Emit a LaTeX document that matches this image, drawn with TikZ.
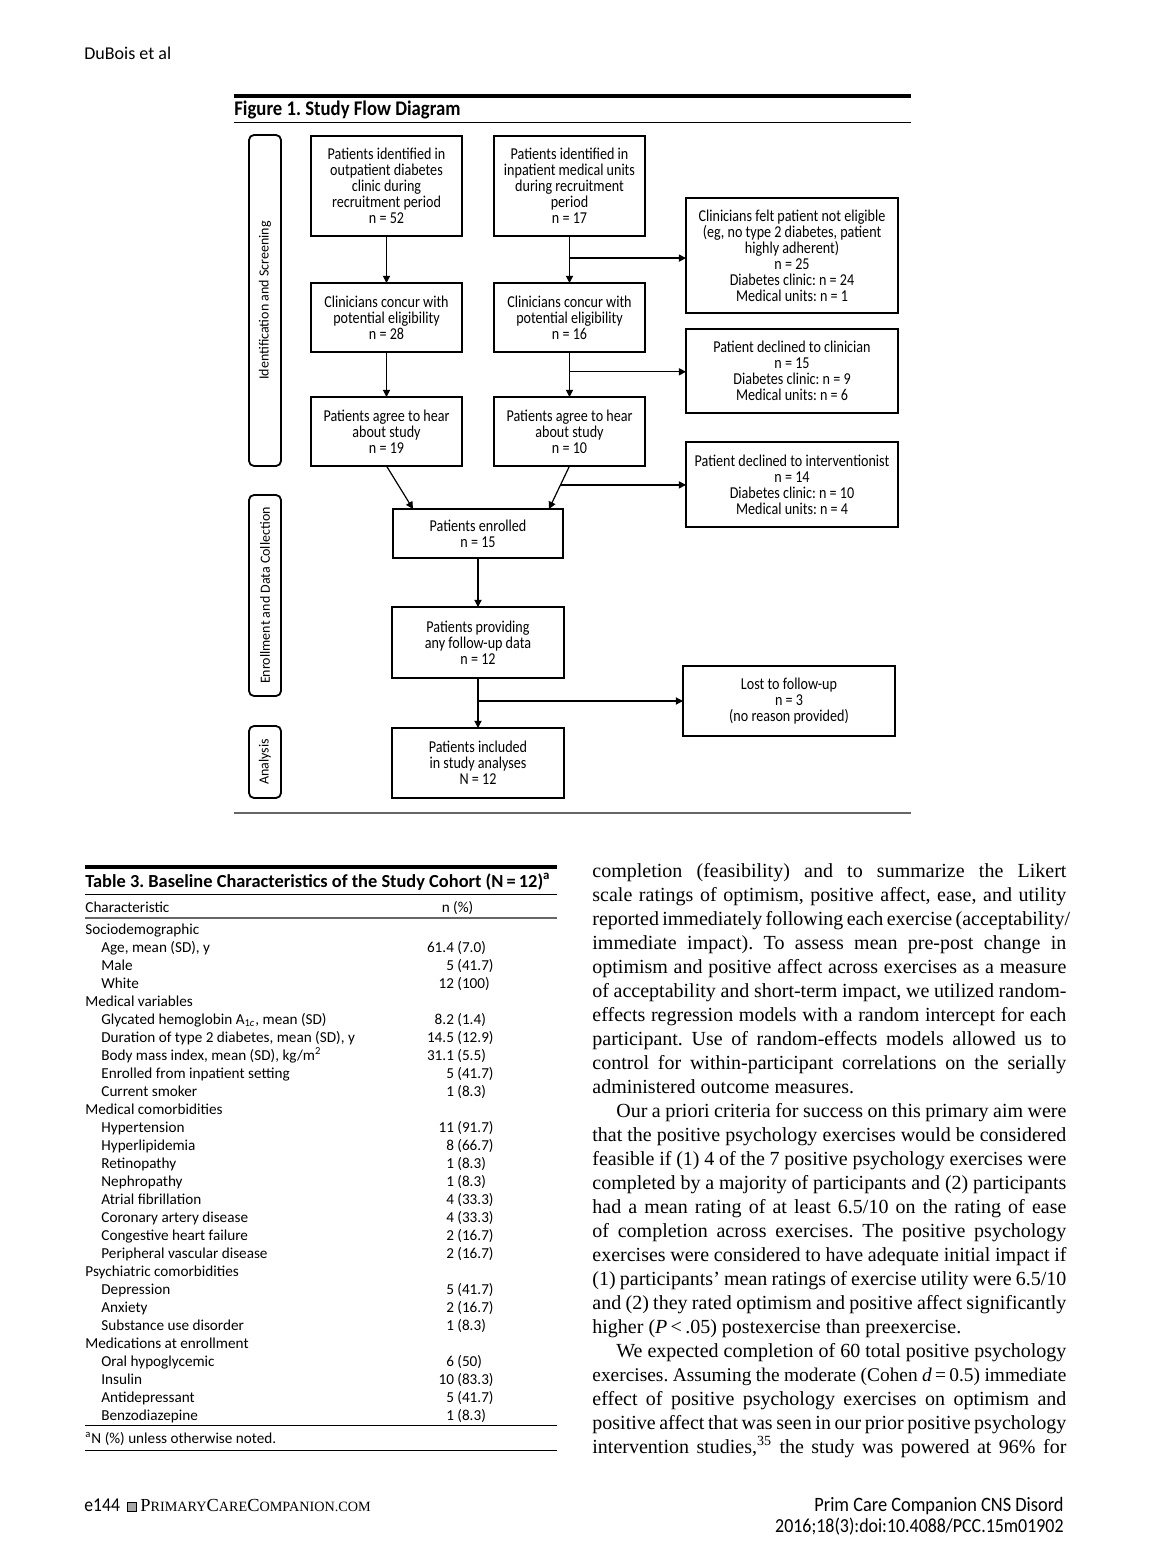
\documentclass[tikz,border=0pt]{standalone}
\usepackage{fontspec}
\setmainfont{Liberation Serif}
\newfontfamily\sansf{Carlito}
\newfontfamily\condf[FakeStretch=0.9]{Carlito}
\newfontfamily\boxf[FakeStretch=0.85]{Carlito}
\usetikzlibrary{arrows.meta,calc}
\frenchspacing

\newcommand\tcat[3]{\node[tcell] (#1) at (85,#2) {#3};}
\newcommand\titem[5]{\node[tcell] (#1) at (101,#2) {#3};
  \node[tcell] (#1v) at (457,#2) {\llap{#4~}#5};}
\newcommand\bodyj[3]{\node[bodytxt] (#1) at (592,#2) {\makebox[237pt][s]{#3}};}
\newcommand\bodyi[3]{\node[bodytxt] (#1) at (616,#2) {\makebox[225pt][s]{#3}};}
\newcommand\bodyp[3]{\node[bodytxt] (#1) at (592,#2) {#3};}
\newcommand\smc[2]{{\fontsize{9.2}{10}\selectfont #1}{\fontsize{7.1}{8}\selectfont #2}}

\begin{document}
\frenchspacing
\begin{tikzpicture}[x=0.5pt,y=-0.5pt,
  fbox/.style={draw, line width=0.6pt, inner sep=0pt, outer sep=0pt, align=center,
    font=\boxf\fontsize{8.3}{8}\selectfont, minimum width=75.5pt},
  thickbox/.style={fbox, line width=1.4pt},
  side/.style={draw, line width=0.9pt, rounded corners=2.5pt, rotate=90,
    minimum height=16pt, inner sep=0pt, font=\sansf\fontsize{7}{8}\selectfont},
  arr/.style={line width=0.6pt, -{Triangle[length=3.6pt,width=3.6pt]}},
  tcell/.style={anchor=base west, inner sep=0pt, font=\sansf\fontsize{7.6}{9}\selectfont},
  bodytxt/.style={anchor=base west, inner sep=0pt, font=\fontsize{10}{12}\selectfont},
  plain/.style={inner sep=0pt}
]
\useasboundingbox[fill=white] (0,0) rectangle (1170,1566);

% header
\node[plain, anchor=base west, font=\sansf\fontsize{9}{10}\selectfont] (hdr) at (84,60) {DuBois et al};

% ---------------- Figure ----------------
\draw[line width=2pt] (234,96) -- (911,96);
\node[plain, anchor=base west, font=\condf\bfseries\fontsize{10.4}{11}\selectfont] (ftitle) at (234,116) {Figure 1. Study Flow Diagram};
\draw[line width=0.5pt] (234,122.5) -- (911,122.5);
\draw[line width=0.8pt, black!60] (234,813) -- (911,813);

% side labels
\node[side, minimum width=165.5pt] (s1) at (265,300.5) {Identification and Screening};
\node[side, minimum width=100.5pt] (s2) at (265,595.5) {Enrollment and Data Collection};
\node[side, minimum width=36pt] (s3) at (265,762) {Analysis};

% boxes
\node[fbox, minimum height=50pt] (A1) at (386.5,186) {Patients identified in\\outpatient diabetes\\clinic during\\recruitment period\\n = 52};
\node[fbox, minimum height=50pt] (B1) at (569.5,186) {Patients identified in\\inpatient medical units\\during recruitment\\period\\n = 17};
\node[fbox, minimum height=34.5pt] (A2) at (386.5,317.5) {Clinicians concur with\\potential eligibility\\n = 28};
\node[fbox, minimum height=34.5pt] (B2) at (569.5,317.5) {Clinicians concur with\\potential eligibility\\n = 16};
\node[fbox, minimum height=34.5pt] (A3) at (386.5,431.5) {Patients agree to hear\\about study\\n = 19};
\node[fbox, minimum height=34.5pt] (B3) at (569.5,431.5) {Patients agree to hear\\about study\\n = 10};
\node[fbox, minimum width=106pt, minimum height=57.5pt] (R1) at (792,255.5) {Clinicians felt patient not eligible\\(eg, no type 2 diabetes, patient\\highly adherent)\\n = 25\\Diabetes clinic: n = 24\\Medical units: n = 1};
\node[fbox, minimum width=106pt, minimum height=42pt] (R2) at (792,371) {Patient declined to clinician\\n = 15\\Diabetes clinic: n = 9\\Medical units: n = 6};
\node[fbox, minimum width=106pt, minimum height=42.5pt] (R3) at (792,484.5) {Patient declined to interventionist\\n = 14\\Diabetes clinic: n = 10\\Medical units: n = 4};
\node[fbox, minimum width=85pt, minimum height=24.5pt] (E) at (478,533.5) {Patients enrolled\\n = 15};
\node[thickbox, minimum width=86pt, minimum height=35.5pt] (F) at (478,642.5) {Patients providing\\any follow-up data\\n = 12};
\node[thickbox, minimum width=86pt, minimum height=35pt] (G) at (478,763) {Patients included\\in study analyses\\N = 12};
\node[fbox, minimum width=106pt, minimum height=35pt] (L) at (789,701) {Lost to follow-up\\n = 3\\(no reason provided)};

% connectors
\draw[arr] (A1) -- (A2);
\draw[arr] (A2) -- (A3);
\draw[arr] (B1) -- (B2);
\draw[arr] (B2) -- (B3);
\coordinate (b1) at ($(B1.south)!0.47!(B2.north)$);
\draw[arr] (b1) -- (b1 -| R1.west);
\coordinate (b2) at ($(B2.south)!0.44!(B3.north)$);
\draw[arr] (b2) -- (b2 -| R2.west);
\coordinate (e1) at ([xshift=10pt]E.north west);
\coordinate (e2) at ([xshift=-7pt]E.north east);
\draw[arr] (A3.south) -- (e1);
\draw[arr] (B3.south) -- (e2);
\coordinate (b3) at ($(B3.south)!0.44!(e2)$);
\draw[arr] (b3) -- (b3 -| R3.west);
\draw[arr] (E) -- (F);
\draw[arr] (F) -- (G);
\coordinate (b4) at ($(F.south)!0.46!(G.north)$);
\draw[arr] (b4) -- (b4 -| L.west);

% ---------------- Table ----------------
\draw[line width=2pt] (85,867) -- (557,867);
\node[plain, anchor=base west, font=\sansf\bfseries\fontsize{9.2}{9}\selectfont] (ttitle) at (85,887) {Table 3. Baseline Characteristics of the Study Cohort (N\,=\,12)\textsuperscript{a}};
\draw[line width=0.5pt] (85,894.5) -- (557,894.5);
\node[tcell] (th1) at (85,912) {Characteristic};
\node[tcell, anchor=base] (th2) at (457.5,912) {n (\%)};
\draw[line width=1pt, black!60] (85,918) -- (557,918);

\tcat{c1}{934}{Sociodemographic}
\titem{r1}{952}{Age, mean (SD), y}{61.4}{(7.0)}
\titem{r2}{970}{Male}{5}{(41.7)}
\titem{r3}{988}{White}{12}{(100)}
\tcat{c2}{1006}{Medical variables}
\titem{r4}{1024}{Glycated hemoglobin A\textsubscript{1\textit{c}}, mean (SD)}{8.2}{(1.4)}
\titem{r5}{1042}{Duration of type 2 diabetes, mean (SD), y}{14.5}{(12.9)}
\titem{r6}{1060}{Body mass index, mean (SD), kg/m\textsuperscript{2}}{31.1}{(5.5)}
\titem{r7}{1078}{Enrolled from inpatient setting}{5}{(41.7)}
\titem{r8}{1096}{Current smoker}{1}{(8.3)}
\tcat{c3}{1114}{Medical comorbidities}
\titem{r9}{1132}{Hypertension}{11}{(91.7)}
\titem{r10}{1150}{Hyperlipidemia}{8}{(66.7)}
\titem{r11}{1168}{Retinopathy}{1}{(8.3)}
\titem{r12}{1186}{Nephropathy}{1}{(8.3)}
\titem{r13}{1204}{Atrial fibrillation}{4}{(33.3)}
\titem{r14}{1222}{Coronary artery disease}{4}{(33.3)}
\titem{r15}{1240}{Congestive heart failure}{2}{(16.7)}
\titem{r16}{1258}{Peripheral vascular disease}{2}{(16.7)}
\tcat{c4}{1276}{Psychiatric comorbidities}
\titem{r17}{1294}{Depression}{5}{(41.7)}
\titem{r18}{1312}{Anxiety}{2}{(16.7)}
\titem{r19}{1330}{Substance use disorder}{1}{(8.3)}
\tcat{c5}{1348}{Medications at enrollment}
\titem{r20}{1366}{Oral hypoglycemic}{6}{(50)}
\titem{r21}{1384}{Insulin}{10}{(83.3)}
\titem{r22}{1402}{Antidepressant}{5}{(41.7)}
\titem{r23}{1420}{Benzodiazepine}{1}{(8.3)}
\draw[line width=0.5pt] (85,1425.5) -- (557,1425.5);
\node[tcell] (tfoot) at (85,1443) {\textsuperscript{a}N (\%) unless otherwise noted.};
\draw[line width=0.5pt] (85,1450.5) -- (557,1450.5);

% ---------------- Body text ----------------
\bodyj{l1}{877}{completion (feasibility) and to summarize the Likert}
\bodyj{l2}{901}{scale ratings of optimism, positive affect, ease, and utility}
\bodyj{l3}{925}{reported immediately following each exercise (acceptability/}
\bodyj{l4}{949}{immediate impact). To assess mean pre-post change in}
\bodyj{l5}{973}{optimism and positive affect across exercises as a measure}
\bodyj{l6}{997}{of acceptability and short-term impact, we utilized random-}
\bodyj{l7}{1021}{effects regression models with a random intercept for each}
\bodyj{l8}{1045}{participant. Use of random-effects models allowed us to}
\bodyj{l9}{1069}{control for within-participant correlations on the serially}
\bodyp{l10}{1093}{administered outcome measures.}
\bodyi{l11}{1117}{Our a priori criteria for success on this primary aim were}
\bodyj{l12}{1141}{that the positive psychology exercises would be considered}
\bodyj{l13}{1165}{feasible if (1) 4 of the 7 positive psychology exercises were}
\bodyj{l14}{1189}{completed by a majority of participants and (2) participants}
\bodyj{l15}{1213}{had a mean rating of at least 6.5/10 on the rating of ease}
\bodyj{l16}{1237}{of completion across exercises. The positive psychology}
\bodyj{l17}{1261}{exercises were considered to have adequate initial impact if}
\bodyj{l18}{1285}{(1) participants’ mean ratings of exercise utility were 6.5/10}
\bodyj{l19}{1309}{and (2) they rated optimism and positive affect significantly}
\bodyp{l20}{1333}{higher (\textit{P}\,<\,.05) postexercise than preexercise.}
\bodyi{l21}{1357}{We expected completion of 60 total positive psychology}
\bodyj{l22}{1381}{\fontsize{9.7}{12}\selectfont exercises. Assuming the moderate (Cohen \textit{d}\,=\,0.5) immediate}
\bodyj{l23}{1405}{effect of positive psychology exercises on optimism and}
\bodyj{l24}{1429}{positive affect that was seen in our prior positive psychology}
\bodyj{l25}{1453}{intervention studies,\textsuperscript{35} the study was powered at 96\% for}

% ---------------- Footer ----------------
\node[plain, anchor=base west, font=\condf\fontsize{9.8}{10}\selectfont] (pg) at (84,1511) {e144};
\node[draw, fill=black!35, line width=0.4pt, minimum size=4.5pt, inner sep=0pt] (sq) at (131.5,1506.5) {};
\node[plain, anchor=base west] (site) at (140,1511) {\smc{P}{RIMARY}\smc{C}{ARE}\smc{C}{OMPANION.COM}};
\node[plain, anchor=base east, font=\condf\fontsize{10.2}{10}\selectfont] (jr1) at (1064,1511) {Prim Care Companion CNS Disord};
\node[plain, anchor=base east, font=\condf\fontsize{9.95}{10}\selectfont] (jr2) at (1064,1532) {2016;18(3):doi:10.4088/PCC.15m01902};
\end{tikzpicture}
\end{document}
